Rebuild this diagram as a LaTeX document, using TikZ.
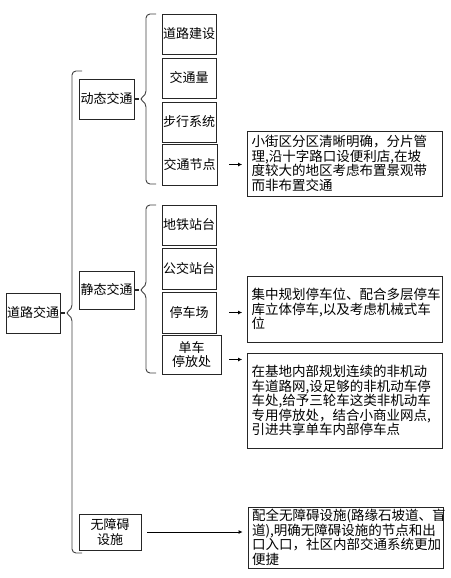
\documentclass[tikz,border=0pt]{standalone}
\usepackage{fontspec}
\setmainfont{Noto Sans CJK SC}
\usetikzlibrary{calc,arrows.meta,positioning,shadows}

\tikzset{
  itembox/.style={draw=black!85, line width=0.8pt, fill=white,
    minimum width=54pt, minimum height=40pt, inner sep=1pt, align=center,
    font=\fontsize{13}{14.5}\selectfont,
    drop shadow={shadow xshift=0.7pt, shadow yshift=-0.7pt, opacity=1, fill=black!70}},
  notebox/.style={draw=black!85, line width=0.8pt, fill=white,
    text width=187pt, inner xsep=4pt, inner ysep=2pt, align=left,
    font=\fontsize{13.5}{14.5}\selectfont,
    drop shadow={shadow xshift=0.7pt, shadow yshift=-0.7pt, opacity=1, fill=black!70}},
  bracestyle/.style={draw=black!75, line width=0.9pt, rounded corners=4pt},
  stub/.style={draw=black!85, line width=1.4pt},
  arr/.style={draw=black, line width=0.9pt, -{Latex[length=4pt,width=4pt]}},
}

% brace: tip name, spine x, top y, tip y, bottom y
\newcommand{\treebrace}[5]{%
  \coordinate (#1) at (#2-7,#4);
  \draw[bracestyle] (#2+10,#3) -- (#2,#3) -- (#2,#4-4) -- (#1) -- (#2,#4+4) -- (#2,#5) -- (#2+10,#5);}

\begin{document}
\begin{tikzpicture}[x=1pt,y=-1pt]
\useasboundingbox (0,0) rectangle (450,578);

% left side
\node[itembox] (root) at (33,313) {道路交通};
\node[itembox, minimum width=55pt] (dyn) at (106.5,99) {动态交通};
\node[itembox, minimum width=55pt, minimum height=38pt] (sta) at (106.5,290) {静态交通};
\node[itembox, minimum width=62pt, minimum height=36pt] (bar) at (110,532) {无障碍\\设施};

% dynamic items
\node[itembox] (dyn1) at (189,34) {道路建设};
\node[itembox] (dyn2) at (189,78) {交通量};
\node[itembox] (dyn3) at (189,122) {步行系统};
\node[itembox, minimum width=55pt, minimum height=41pt] (dyn4) at (189.5,164.5) {交通节点};

% static items
\node[itembox] (sta1) at (189,225) {地铁站台};
\node[itembox, minimum height=41pt] (sta2) at (189,268.5) {公交站台};
\node[itembox, minimum height=41pt] (sta3) at (189,312.5) {停车场};
\node[itembox, minimum width=59pt, minimum height=39pt] (sta4) at (191.5,354.5) {单车\\停放处};

% notes
\node[notebox, minimum height=65pt] (note1) at (345,163.5)
  {小街区分区清晰明确，分片管\\理,沿十字路口设便利店,在坡\\度较大的地区考虑布置景观带\\而非布置交通};
\node[notebox, minimum height=66pt] (note2) at (345,309)
  {集中规划停车位、配合多层停车\\库立体停车,以及考虑机械式车\\位};
\node[notebox, minimum height=95pt] (note3) at (345,400.5)
  {在基地内部规划连续的非机动\\车道路网,设足够的非机动车停\\车处,给予三轮车这类非机动车\\专用停放处，结合小商业网点,\\引进共享单车内部停车点};
\node[notebox, minimum height=61pt] (note4) at (345.5,537.5)
  {配全无障碍设施(路缘石坡道、盲\\道),明确无障碍设施的节点和出\\口入口，社区内部交通系统更加\\便捷};

% braces
\treebrace{rootb}{72}{71}{313}{553}
\treebrace{dynb}{146}{14}{99}{184}
\treebrace{stab}{146}{205}{290}{373}
\draw[stub] (root.east) -- (rootb);
\draw[stub] (dyn.east) -- (dynb);
\draw[stub] (sta.east) -- (stab);

% arrows
\draw[arr] ($(dyn4.east -| note1.west)+(-18,0)$) -- ($(dyn4.east -| note1.west)+(-5,0)$);
\draw[arr] ($(sta3.east -| note2.west)+(-18,0)$) -- ($(sta3.east -| note2.west)+(-5,0)$);
\draw[arr] ($(sta4.east -| note3.west)+(-18,5)$) -- ($(sta4.east -| note3.west)+(-5,5)$);
\draw[arr, shorten <=6pt, shorten >=5pt] (bar.east) -- (bar.east -| note4.west);
\end{tikzpicture}
\end{document}
